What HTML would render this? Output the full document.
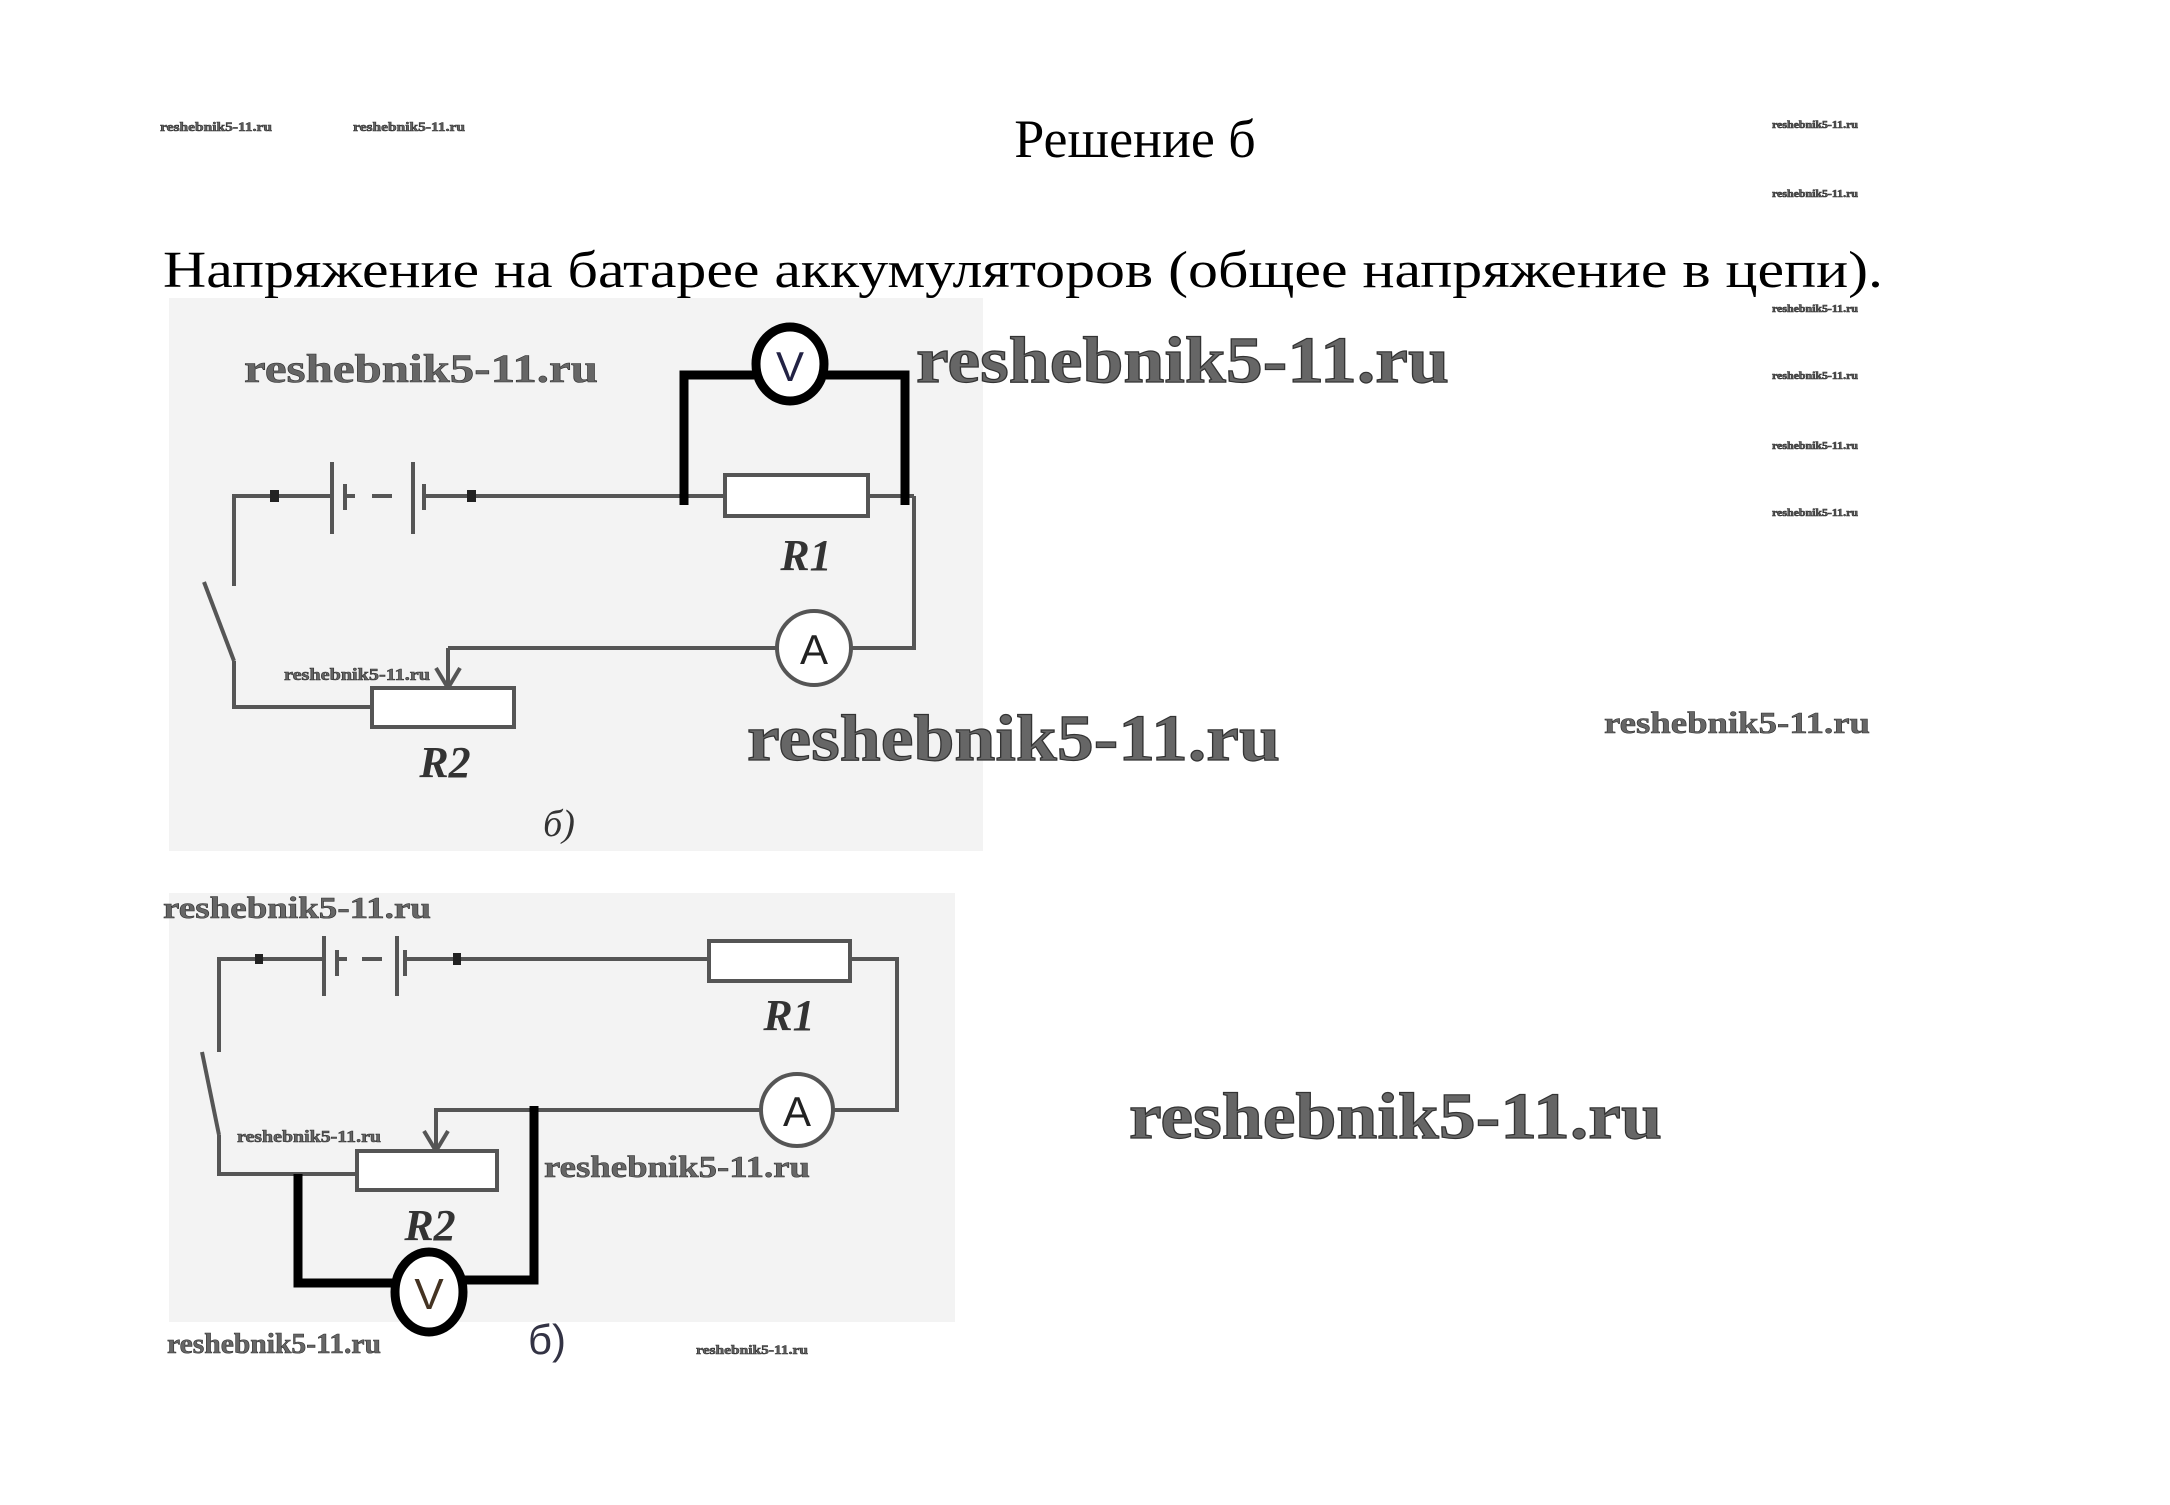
<!DOCTYPE html>
<html><head><meta charset="utf-8"><style>html,body{margin:0;padding:0;background:#fff}svg{display:block}</style></head><body>
<svg width="2170" height="1505" viewBox="0 0 2170 1505" xmlns="http://www.w3.org/2000/svg">
<rect width="2170" height="1505" fill="#fff"/>
<rect x="169" y="298" width="814" height="553" fill="#f3f3f3"/>
<rect x="169" y="893" width="786" height="429" fill="#f3f3f3"/>
<g font-family="Liberation Serif, serif" fill="#000">
<text x="1135" y="157" font-size="54" text-anchor="middle">Решение б</text>
<text x="163" y="287" font-size="52" textLength="1720" lengthAdjust="spacingAndGlyphs">Напряжение на батарее аккумуляторов (общее напряжение в цепи).</text>
</g>
<g font-family="Liberation Serif, serif" font-weight="bold" fill="#666" stroke="#333" stroke-width="0.6">
<text x="160" y="131" font-size="13" textLength="112" lengthAdjust="spacingAndGlyphs">reshebnik5-11.ru</text>
<text x="353" y="131" font-size="13" textLength="112" lengthAdjust="spacingAndGlyphs">reshebnik5-11.ru</text>
<text x="1772" y="128" font-size="10" textLength="86" lengthAdjust="spacingAndGlyphs">reshebnik5-11.ru</text>
<text x="1772" y="197" font-size="10" textLength="86" lengthAdjust="spacingAndGlyphs">reshebnik5-11.ru</text>
<text x="1772" y="312" font-size="10" textLength="86" lengthAdjust="spacingAndGlyphs">reshebnik5-11.ru</text>
<text x="1772" y="379" font-size="10" textLength="86" lengthAdjust="spacingAndGlyphs">reshebnik5-11.ru</text>
<text x="1772" y="449" font-size="10" textLength="86" lengthAdjust="spacingAndGlyphs">reshebnik5-11.ru</text>
<text x="1772" y="516" font-size="10" textLength="86" lengthAdjust="spacingAndGlyphs">reshebnik5-11.ru</text>
<text x="916" y="382" font-size="66" textLength="533" lengthAdjust="spacingAndGlyphs" stroke-width="1.2">reshebnik5-11.ru</text>
<text x="747" y="760" font-size="66" textLength="533" lengthAdjust="spacingAndGlyphs" stroke-width="1.2">reshebnik5-11.ru</text>
<text x="1129" y="1138" font-size="66" textLength="533" lengthAdjust="spacingAndGlyphs" stroke-width="1.2">reshebnik5-11.ru</text>
<text x="1604" y="733" font-size="31" textLength="266" lengthAdjust="spacingAndGlyphs">reshebnik5-11.ru</text>
<text x="244" y="382" font-size="40" textLength="354" lengthAdjust="spacingAndGlyphs">reshebnik5-11.ru</text>
<text x="163" y="918" font-size="31" textLength="268" lengthAdjust="spacingAndGlyphs">reshebnik5-11.ru</text>
<text x="544" y="1177" font-size="31" textLength="266" lengthAdjust="spacingAndGlyphs">reshebnik5-11.ru</text>
<text x="167" y="1353" font-size="28" textLength="214" lengthAdjust="spacingAndGlyphs">reshebnik5-11.ru</text>
<text x="284" y="680" font-size="17" textLength="146" lengthAdjust="spacingAndGlyphs">reshebnik5-11.ru</text>
<text x="237" y="1142" font-size="17" textLength="144" lengthAdjust="spacingAndGlyphs">reshebnik5-11.ru</text>
<text x="696" y="1354" font-size="13" textLength="112" lengthAdjust="spacingAndGlyphs">reshebnik5-11.ru</text>
</g>
<!-- circuit 1 -->
<g stroke="#555" stroke-width="4" fill="none">
<polyline points="234,586 234,496 332,496"/>
<line x1="345" y1="496" x2="355" y2="496"/>
<line x1="372" y1="496" x2="392" y2="496"/>
<line x1="424" y1="496" x2="725" y2="496"/>
<line x1="868" y1="496" x2="914" y2="496"/>
<polyline points="914,496 914,648 851,648"/>
<line x1="777" y1="648" x2="448" y2="648"/>
<line x1="448" y1="648" x2="448" y2="686"/>
<polyline points="436,668 448,688 460,668"/>
<line x1="204" y1="582" x2="234" y2="661"/>
<polyline points="234,661 234,707 372,707"/>
<rect x="372" y="688" width="142" height="39" fill="#fff"/>
<rect x="725" y="475" width="143" height="41" fill="#fff"/>
<circle cx="814" cy="648" r="37" fill="#fff"/>
<line x1="332" y1="462" x2="332" y2="534"/>
<line x1="345" y1="484" x2="345" y2="510"/>
<line x1="413" y1="462" x2="413" y2="534"/>
<line x1="424" y1="484" x2="424" y2="510"/>
</g>
<rect x="270" y="490" width="9" height="12" fill="#222"/>
<rect x="467" y="490" width="9" height="12" fill="#222"/>
<g stroke="#000" stroke-width="9" fill="none">
<polyline points="684,505 684,375 754,375"/>
<polyline points="826,375 905,375 905,505"/>
<ellipse cx="790" cy="364" rx="34" ry="37" fill="#fff"/>
</g>
<g font-family="Liberation Sans, sans-serif" fill="#222" text-anchor="middle">
<text x="790" y="381" font-size="42" fill="#224">V</text>
<text x="814" y="664" font-size="42">A</text>
</g>
<g font-family="Liberation Serif, serif" font-style="italic" font-weight="bold" fill="#333" text-anchor="middle">
<text x="806" y="570" font-size="44">R1</text>
<text x="445" y="777" font-size="44">R2</text>
<text x="559" y="836" font-size="38" font-weight="normal">б)</text>
</g>
<!-- circuit 2 -->
<g stroke="#555" stroke-width="4" fill="none">
<polyline points="219,1052 219,959 324,959"/>
<line x1="337" y1="959" x2="347" y2="959"/>
<line x1="362" y1="959" x2="382" y2="959"/>
<line x1="405" y1="959" x2="709" y2="959"/>
<polyline points="850,959 897,959 897,1110 833,1110"/>
<polyline points="761,1110 436,1110 436,1149"/>
<polyline points="424,1131 436,1151 448,1131"/>
<line x1="202" y1="1052" x2="219" y2="1135"/>
<polyline points="219,1135 219,1174 357,1174"/>
<rect x="357" y="1151" width="140" height="39" fill="#fff"/>
<rect x="709" y="941" width="141" height="40" fill="#fff"/>
<circle cx="797" cy="1110" r="36" fill="#fff"/>
<line x1="324" y1="936" x2="324" y2="996"/>
<line x1="337" y1="950" x2="337" y2="976"/>
<line x1="397" y1="936" x2="397" y2="996"/>
<line x1="405" y1="950" x2="405" y2="976"/>
</g>
<rect x="255" y="954" width="8" height="10" fill="#222"/>
<rect x="453" y="953" width="8" height="12" fill="#222"/>
<g stroke="#000" stroke-width="9" fill="none">
<polyline points="298,1174 298,1283 395,1283"/>
<polyline points="463,1280 534,1280 534,1106"/>
<ellipse cx="429" cy="1292" rx="34" ry="40" fill="#fff"/>
</g>
<g font-family="Liberation Sans, sans-serif" fill="#222" text-anchor="middle">
<text x="429" y="1309" font-size="44" fill="#432">V</text>
<text x="797" y="1126" font-size="42">A</text>
<text x="547" y="1354" font-size="42" fill="#334">б)</text>
</g>
<g font-family="Liberation Serif, serif" font-style="italic" font-weight="bold" fill="#333" text-anchor="middle">
<text x="789" y="1030" font-size="44">R1</text>
<text x="430" y="1240" font-size="44">R2</text>
</g>
</svg>
</body></html>
